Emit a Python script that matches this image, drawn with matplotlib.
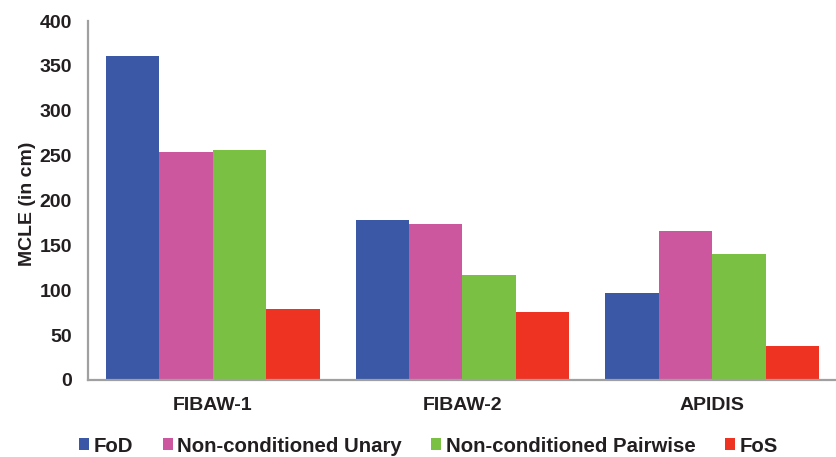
import matplotlib
matplotlib.use("Agg")
import matplotlib.pyplot as plt
import numpy as np

categories = ["FIBAW-1", "FIBAW-2", "APIDIS"]
series_names = ["FoD", "Non-conditioned Unary", "Non-conditioned Pairwise", "FoS"]
fod = [361, 178, 97]
unary = [254, 173.5, 165.5]
pairwise = [256, 117, 140]
fos = [79.5, 75.5, 37.5]
y_ticks = [0, 50, 100, 150, 200, 250, 300, 350, 400]

colors = ["#3A58A5", "#CD579E", "#7AC043", "#EF3323"]
text_color = "#231F20"

plt.rcParams["font.family"] = ["Liberation Sans", "DejaVu Sans"]
plt.rcParams["font.weight"] = "bold"

W, H = 837, 457
fig = plt.figure(figsize=(W / 100, H / 100), dpi=100)
ax = fig.add_axes([88 / W, 1 - 380 / H, 749 / W, 359 / H])

x = np.arange(len(categories))
width = 0.214
all_series = [fod, unary, pairwise, fos]
handles = []
for i, (vals, name, col) in enumerate(zip(all_series, series_names, colors)):
    offset = (i - 1.5) * width
    h = ax.bar(x + offset, vals, width=width, color=col, label=name, linewidth=0)
    handles.append(h)

ax.set_xlim(-0.5, 2.5)
ax.set_ylim(0, 400)
ax.set_yticks(y_ticks)
ax.set_yticklabels([str(t) for t in y_ticks])
ax.set_xticks(x)
ax.set_xticklabels(categories)
ax.tick_params(axis="both", length=0, labelsize=14, colors=text_color)
ax.tick_params(axis="y", pad=11.5)
ax.tick_params(axis="x", pad=12)
for lbl in ax.get_xticklabels() + ax.get_yticklabels():
    lbl.set_fontweight("bold")

for side in ["top", "right"]:
    ax.spines[side].set_visible(False)
for side in ["left", "bottom"]:
    ax.spines[side].set_color("#A0A0A0")
    ax.spines[side].set_linewidth(1.6)

ax.set_ylabel("MCLE (in cm)", fontsize=14, fontweight="bold", color=text_color)
ax.yaxis.set_label_coords(-52 / 749, 0.49)

leg = fig.legend(handles=handles, labels=series_names, loc="center left",
                 bbox_to_anchor=(79 / W, 11 / H), ncol=4, frameon=False,
                 handlelength=0.49, handleheight=0.49, handletextpad=0.22,
                 columnspacing=1.45, borderaxespad=0, borderpad=0,
                 prop={"size": 14.7, "weight": "bold"})
for t in leg.get_texts():
    t.set_color(text_color)

fig.savefig("out.png", dpi=100)
